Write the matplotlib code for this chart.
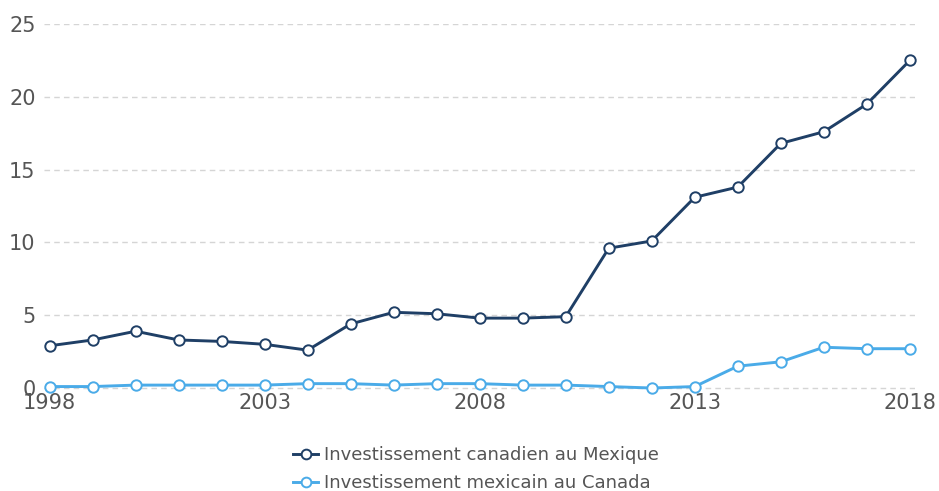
from matplotlib import pyplot as plt

# data
years = list(range(1998, 2019))
canada_in_mexico = [2.9, 3.3, 3.9, 3.3, 3.2, 3.0, 2.6, 4.4, 5.2, 5.1, 4.8,
                    4.8, 4.9, 9.6, 10.1, 13.1, 13.8, 16.8, 17.6, 19.5, 22.5]
mexico_in_canada = [0.1, 0.1, 0.2, 0.2, 0.2, 0.2, 0.3, 0.3, 0.2, 0.3, 0.3,
                    0.2, 0.2, 0.1, 0.0, 0.1, 1.5, 1.8, 2.8, 2.7, 2.7]
labels = ['Investissement canadien au Mexique',
          'Investissement mexicain au Canada']
colors = ['#1f3f66', '#4aabe8']
xticks = [1998, 2003, 2008, 2013, 2018]
yticks = [0, 5, 10, 15, 20, 25]

fig = plt.figure(figsize=(9.39, 4.91), dpi=100)
# small margin below zero so the zero grid line is drawn in full
ax = fig.add_axes([44 / 939, (491 - 390.2) / 491, (915 - 44) / 939, (390.2 - 24) / 491])

for vals, lab, col in zip([canada_in_mexico, mexico_in_canada], labels, colors):
    ax.plot(years, vals, color=col, lw=2.1, marker='o', markersize=7.5,
            markerfacecolor='white', markeredgecolor=col, markeredgewidth=1.4,
            label=lab, clip_on=False, zorder=3)

ax.set_xlim(1997.87, 2018.12)
ax.set_ylim(-0.15, 25)
ax.set_xticks(xticks)
ax.set_yticks(yticks)
ax.tick_params(length=0, labelsize=15, labelcolor='#555555')
ax.tick_params(axis='x', pad=2)
ax.tick_params(axis='y', pad=6)
ax.grid(axis='y', color='#d5d5d5', linestyle=(0, (4, 3)), lw=1)
for s in ax.spines.values():
    s.set_visible(False)

leg = fig.legend(loc='center', bbox_to_anchor=(476 / 939, 1 - 469 / 491), ncol=1,
                 frameon=False, fontsize=13, handlelength=1.4, handletextpad=0.3,
                 labelspacing=0.55, labelcolor='#555555')
for h in leg.legend_handles:
    h.set_markersize(7)

plt.savefig('out.png', dpi=100)
